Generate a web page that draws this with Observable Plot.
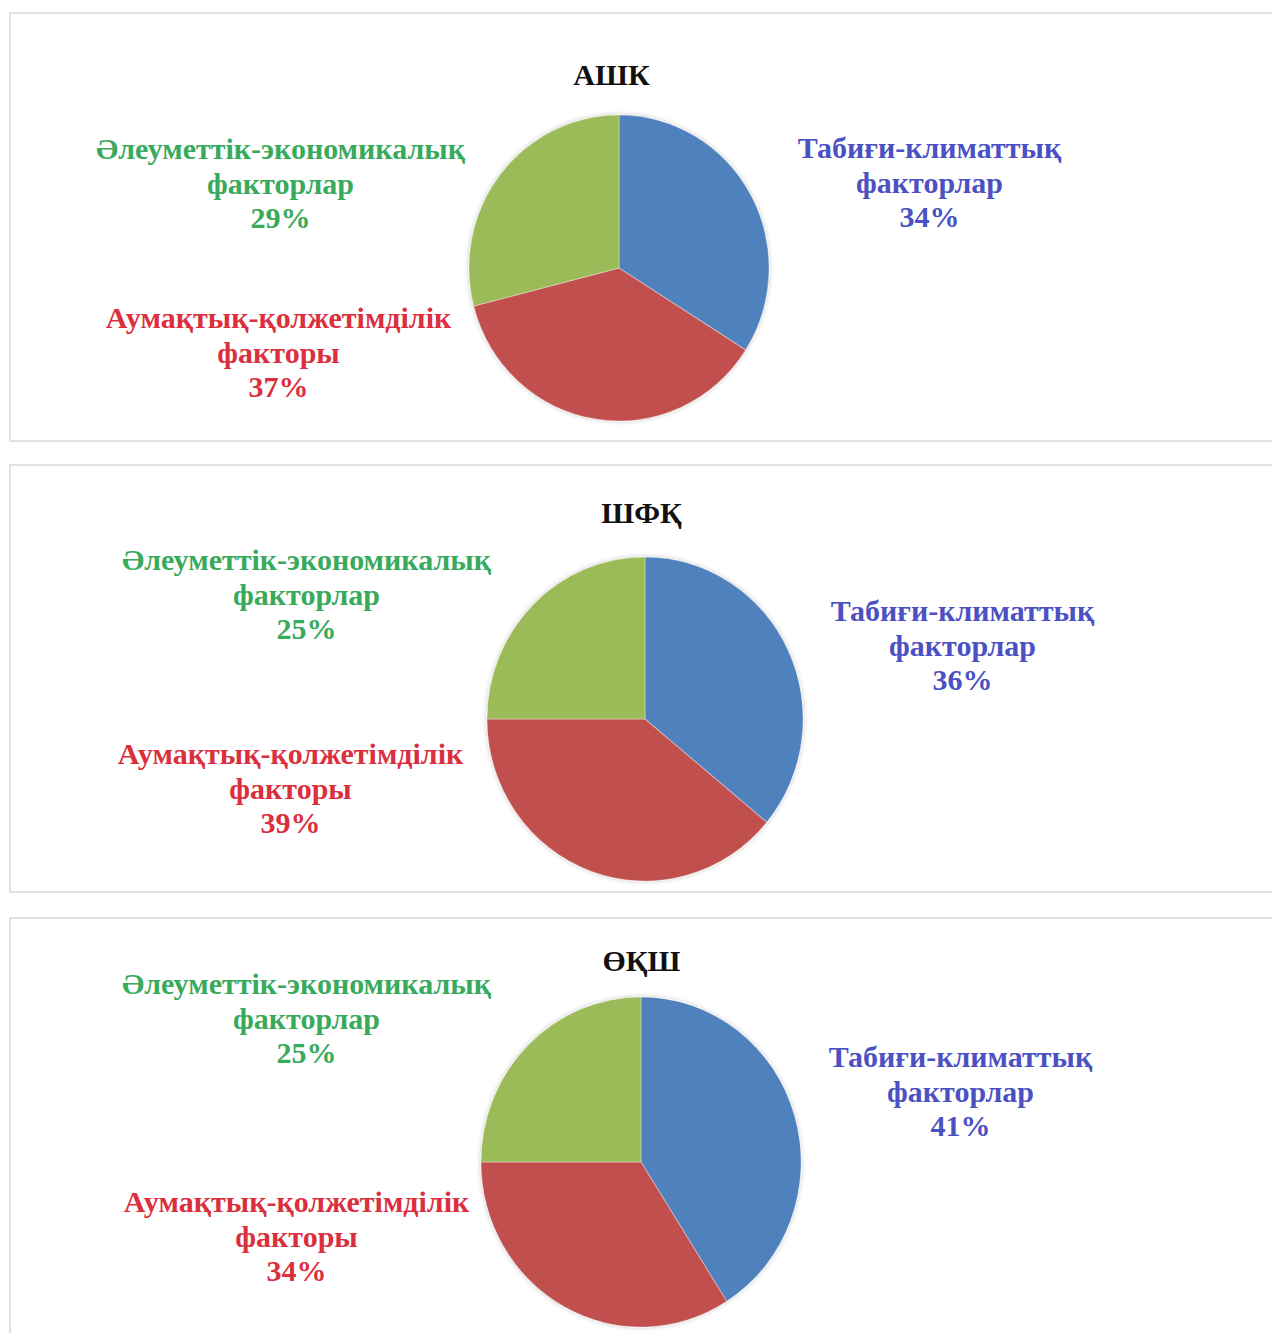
<!DOCTYPE html>
<html><head><meta charset="utf-8">
<script src="https://cdn.jsdelivr.net/npm/d3@7"></script>
<script src="https://cdn.jsdelivr.net/npm/@observablehq/plot@0.6"></script>
<style>
html,body{margin:0;padding:0;background:#fff;}
body{width:1272px;height:1333px;overflow:hidden;position:relative;}
.panel{position:absolute;left:9px;width:1300px;border:2px solid #e2e2e2;box-sizing:border-box;background:#fff;overflow:hidden;}
.panel svg{display:block;}
</style></head><body>
<script>
// ---- data ----
const panelTitles = ["АШК", "ШФҚ", "ӨҚШ"];
const categories = ["Табиғи-климаттық факторлар", "Аумақтық-қолжетімділік факторы", "Әлеуметтік-экономикалық факторлар"];
const categoryLines = [["Табиғи-климаттық", "факторлар"], ["Аумақтық-қолжетімділік", "факторы"], ["Әлеуметтік-экономикалық", "факторлар"]];
const valuesASHK = [34, 37, 29];
const valuesSHFK = [36, 39, 25];
const valuesOKSH = [41, 34, 25];
const panelValues = [valuesASHK, valuesSHFK, valuesOKSH];

// ---- styles & layout (page pixel coordinates) ----
const sliceColors = ["#4F81BD", "#C0504D", "#9BBB59"];
const textColors = ["#4B51C2", "#DC2F3E", "#37AA5B"];
const fontFamily = "'Liberation Serif', 'Times New Roman', serif";
const fontSize = 30;
const panelTop = [12, 464, 917];
const panelHeight = [430, 429, 440];
const panelLeft = 9;
const panelWidth = 1300;
const pieCenter = [[619, 268], [645, 719], [641, 1162]];
const pieRadius = [[150, 153], [158, 162], [160, 165]];
const titlePos = [[611, 75], [641, 513], [641, 961]];
const labelPos = [
  [[929, 181], [278, 351], [280, 182]],
  [[962, 644], [290, 787], [306, 593]],
  [[960, 1090], [296, 1235], [306, 1017]]
];

function pieMark(values, center, radius, id) {
  return (index, scales) => {
    const X = scales.x(center[0]), Y = scales.y(center[1]);
    const r = scales.x(center[0] + radius[0]) - X;
    const sy = (scales.y(center[1] + radius[1]) - Y) / r;
    const arcs = d3.pie().sort(null)(values);
    const arc = d3.arc().innerRadius(0).outerRadius(r);
    const g = d3.create("svg:g");
    const f = g.append("defs").append("filter").attr("id", "soft" + id)
      .attr("x", "-10%").attr("y", "-10%").attr("width", "120%").attr("height", "120%");
    f.append("feGaussianBlur").attr("in", "SourceAlpha").attr("stdDeviation", 2.5).attr("result", "b");
    f.append("feComponentTransfer").attr("in", "b").attr("result", "c")
      .append("feFuncA").attr("type", "linear").attr("slope", 0.25);
    const m = f.append("feMerge");
    m.append("feMergeNode").attr("in", "c");
    m.append("feMergeNode").attr("in", "SourceGraphic");
    const inner = g.append("g")
      .attr("transform", `translate(${X},${Y}) scale(1,${sy})`)
      .attr("filter", `url(#soft${id})`);
    inner.selectAll("path").data(arcs).join("path")
      .attr("d", arc)
      .attr("fill", (d, i) => sliceColors[i])
      .attr("stroke", "rgba(255,255,255,0.35)")
      .attr("stroke-width", 1);
    return g.node();
  };
}

panelTitles.forEach((title, p) => {
  const x0 = panelLeft + 2, y0 = panelTop[p] + 2;
  const W = panelWidth - 4, H = panelHeight[p] - 4;
  const values = panelValues[p];
  const rows = categories.map((c, i) => ({
    category: c,
    value: values[i],
    text: categoryLines[i].join("\n") + "\n" + values[i] + "%",
    x: labelPos[p][i][0],
    y: labelPos[p][i][1],
    color: textColors[i]
  }));
  const chart = Plot.plot({
    width: W,
    height: H,
    margin: 0,
    x: {domain: [x0, x0 + W], range: [0, W], axis: null},
    y: {domain: [y0, y0 + H], range: [0, H], axis: null},
    style: {fontFamily, background: "transparent"},
    marks: [
      pieMark(values, pieCenter[p], pieRadius[p], p),
      Plot.text([title], {
        x: () => titlePos[p][0], y: () => titlePos[p][1], text: d => d,
        fontSize, fontWeight: "bold", fill: "#111", textAnchor: "middle"
      }),
      Plot.text(rows, {
        x: "x", y: "y", text: "text", fill: "color",
        fontSize, fontWeight: "bold", textAnchor: "middle", lineHeight: 1.15
      })
    ]
  });
  const div = document.createElement("div");
  div.className = "panel";
  div.style.top = panelTop[p] + "px";
  div.style.height = panelHeight[p] + "px";
  div.appendChild(chart);
  document.body.appendChild(div);
});
</script>
</body></html>
